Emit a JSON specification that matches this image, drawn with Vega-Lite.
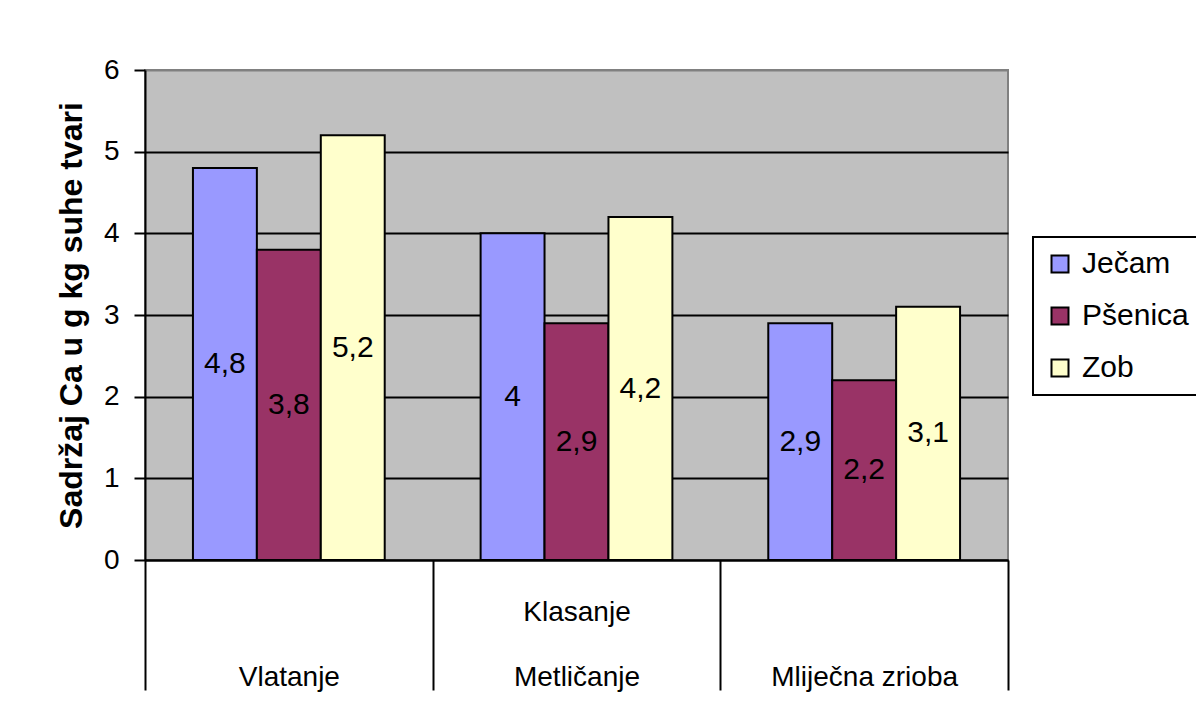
{
  "$schema": "https://vega.github.io/schema/vega-lite/v6.json",
  "width": 863,
  "height": 490,
  "autosize": {"type": "none"},
  "padding": {"left": 145, "top": 70, "right": 188, "bottom": 162},
  "background": "white",
  "config": {
    "font": "Liberation Sans",
    "locale": {"number": {"decimal": ",", "thousands": ".", "grouping": [3], "currency": ["", " €"]}},
    "view": {"fill": "#C0C0C0", "stroke": "#808080", "strokeWidth": 2}
  },
  "data": {
    "values": [
      {"stage": "Vlatanje", "crop": "Ječam", "value": 4.8},
      {"stage": "Vlatanje", "crop": "Pšenica", "value": 3.8},
      {"stage": "Vlatanje", "crop": "Zob", "value": 5.2},
      {"stage": "Metličanje", "crop": "Ječam", "value": 4.0},
      {"stage": "Metličanje", "crop": "Pšenica", "value": 2.9},
      {"stage": "Metličanje", "crop": "Zob", "value": 4.2},
      {"stage": "Mliječna zrioba", "crop": "Ječam", "value": 2.9},
      {"stage": "Mliječna zrioba", "crop": "Pšenica", "value": 2.2},
      {"stage": "Mliječna zrioba", "crop": "Zob", "value": 3.1}
    ]
  },
  "transform": [{"calculate": "datum.value / 2", "as": "mid"}],
  "encoding": {
    "x": {
      "field": "stage",
      "type": "nominal",
      "sort": ["Vlatanje", "Metličanje", "Mliječna zrioba"],
      "scale": {"paddingInner": 0, "paddingOuter": 0},
      "axis": {
        "title": null,
        "orient": "bottom",
        "tickBand": "extent",
        "ticks": true,
        "tickSize": 130,
        "tickColor": "black",
        "tickWidth": 2,
        "domainColor": "black",
        "domainWidth": 2,
        "grid": false,
        "labelAngle": 0,
        "labelFontSize": 28,
        "labelColor": "black",
        "labelBaseline": "alphabetic",
        "labelPadding": -70,
        "labelLineHeight": 65,
        "labelLimit": 400,
        "labelExpr": "datum.value == 'Metličanje' ? ['Klasanje', 'Metličanje'] : ['', datum.value]"
      }
    },
    "xOffset": {
      "field": "crop",
      "type": "nominal",
      "sort": ["Ječam", "Pšenica", "Zob"],
      "scale": {"paddingInner": 0, "paddingOuter": 0.75}
    }
  },
  "layer": [
    {
      "mark": {"type": "bar", "stroke": "black", "strokeWidth": 2, "opacity": 1},
      "encoding": {
        "y": {
          "field": "value",
          "type": "quantitative",
          "title": "Sadržaj Ca u g kg suhe tvari",
          "scale": {"domain": [0, 6], "nice": false},
          "axis": {
            "values": [0, 1, 2, 3, 4, 5, 6],
            "format": "d",
            "grid": true,
            "gridColor": {"condition": {"test": "datum.value == 6", "value": "#808080"}, "value": "black"},
            "gridWidth": 2,
            "domainColor": "black",
            "domainWidth": 2,
            "tickColor": "black",
            "tickWidth": 2,
            "tickSize": 11,
            "labelFontSize": 28,
            "labelColor": "black",
            "labelPadding": 15,
            "titleFontSize": 32,
            "titleFontWeight": "bold",
            "titleColor": "black",
            "titlePadding": 15
          }
        },
        "color": {
          "field": "crop",
          "type": "nominal",
          "sort": ["Ječam", "Pšenica", "Zob"],
          "scale": {"domain": ["Ječam", "Pšenica", "Zob"], "range": ["#9999FF", "#993366", "#FFFFCC"]},
          "legend": {
            "title": null,
            "orient": "none",
            "legendX": 888,
            "legendY": 167,
            "labelFontSize": 30,
            "labelColor": "black",
            "symbolType": "square",
            "symbolSize": 289,
            "symbolStrokeColor": "black",
            "symbolStrokeWidth": 2,
            "symbolOpacity": 1,
            "strokeColor": "black",
            "fillColor": "white",
            "padding": 12,
            "rowPadding": 22,
            "labelOffset": 7,
            "labelLimit": 400,
            "encode": {"legend": {"update": {"strokeWidth": {"value": 2}}}}
          }
        }
      }
    },
    {
      "mark": {"type": "text", "fontSize": 30, "color": "black", "align": "center", "baseline": "middle"},
      "encoding": {
        "y": {"field": "mid", "type": "quantitative", "title": "Sadržaj Ca u g kg suhe tvari"},
        "text": {"field": "value", "type": "quantitative", "format": ".1~f"}
      }
    }
  ]
}
